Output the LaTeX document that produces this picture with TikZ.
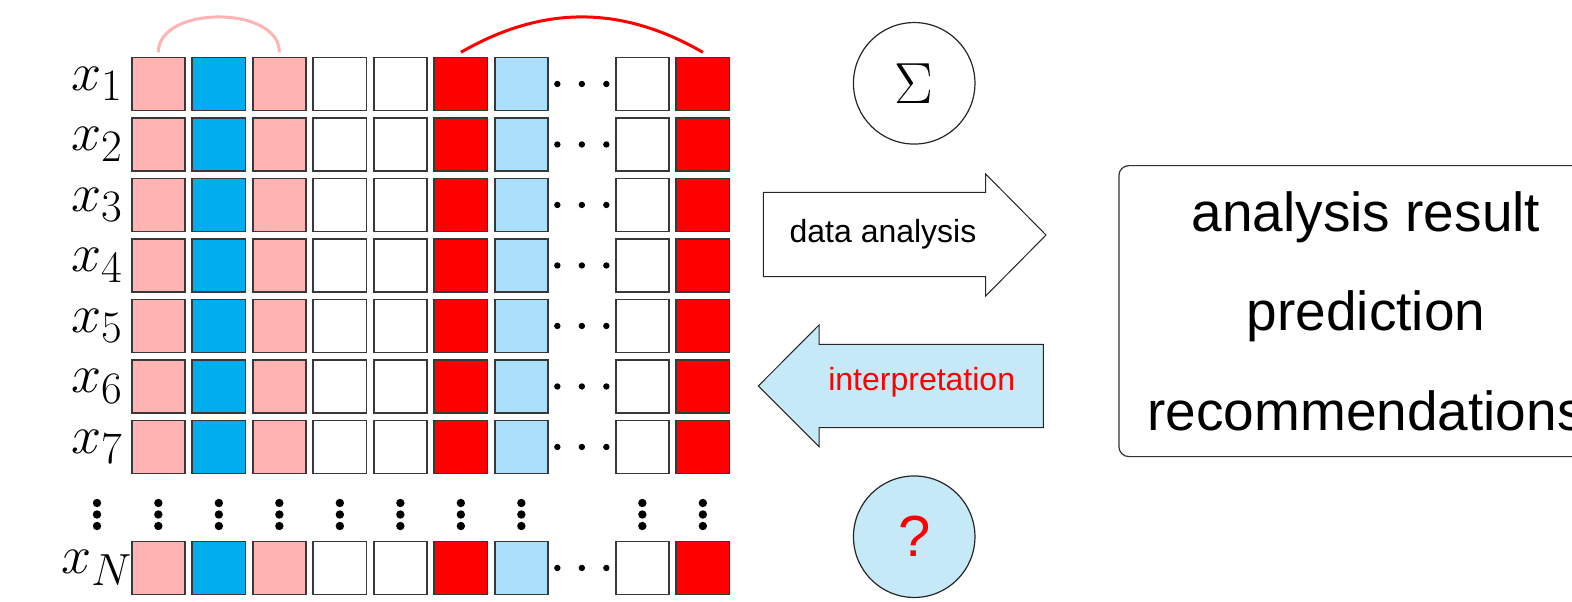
\documentclass[tikz,border=0pt]{standalone}
\usepackage{amsmath}
\usepackage{fontspec}
\usepackage{xcolor}
\usetikzlibrary{positioning}
\newfontfamily\robo{Liberation Sans}
\definecolor{pinky}{HTML}{FFB3B3}
\definecolor{bluey}{HTML}{00AEEF}
\definecolor{lightbluey}{HTML}{AAE0FA}
\definecolor{paleblue}{HTML}{C6E9F8}

\begin{document}
\begin{tikzpicture}[x=0.5pt,y=-0.5pt]
\tikzstyle{every node}+=[inner sep=0pt]
\tikzstyle{cell}=[draw=black!78, line width=0.8pt, minimum size=26.65pt]
\tikzstyle{rowlabel}=[font=\Huge, scale=1.085]
\tikzstyle{arrowtext}=[font=\robo\fontsize{16}{19}\selectfont, anchor=base]
\tikzstyle{resulttext}=[font=\robo\fontsize{27.5}{32}\selectfont, anchor=base]
\tikzstyle{bubble}=[circle, draw=black!85, line width=0.6pt, minimum size=60.75pt]
\useasboundingbox (0,0) rectangle (1572,601);
\foreach \c/\col in {0/pinky,1/bluey,2/pinky,3/white,4/white,5/red,6/lightbluey,8/white,9/red} {
  \foreach \r in {1,...,7}
    \node [cell, fill=\col] (c\r-\c) at ({158.35+60.5*\c},{83.95+60.5*(\r-1)}) {};
  \node [cell, fill=\col] (cN-\c) at ({158.35+60.5*\c},567.95) {};
}
\foreach \r in {1,...,7}
  \node [rowlabel] (x\r) at (97,{83.95+60.5*(\r-1)}) {$x_{\r}$};
\node [rowlabel] (xN) at (97,567.95) {$x_N$};
\foreach \y in {83.95,144.45,204.95,265.45,325.95,386.45,446.95,567.95}
  \foreach \dx in {-24.5,0,24.5}
    \fill ({581.85+\dx},\y) circle (1.6pt);
\foreach \x in {97,158.35,218.85,279.35,339.85,400.35,460.85,521.35,642.35,702.85}
  \foreach \y in {503,514.5,526}
    \fill (\x,\y) circle (2.1pt);
\draw [pinky, line width=1.5pt] ([yshift=2.1pt]c1-0.north) to[out=90,in=90] ([yshift=2.1pt]c1-2.north);
\draw [red, line width=1.5pt] ([yshift=2.1pt]c1-5.north) to[out=30,in=150] ([yshift=2.1pt]c1-9.north);
\node [bubble] (sum) at (914.2,83.3) {\scalebox{1.4}{\huge$\Sigma$}};
\node [bubble, fill=paleblue] (query) at (914.2,536.7) {\robo\fontsize{29}{32}\selectfont\textcolor{red}{?}};
\draw [black!85, line width=0.5pt] (763.3,192.3) -- (985.7,192.3) -- (985.7,174) -- (1046,235) -- (985.7,296) -- (985.7,276.7) -- (763.3,276.7) -- cycle;
\node [arrowtext] (analysis) at (883,242.7) {data analysis};
\draw [black!85, line width=0.5pt, fill=paleblue] (1043.3,344.3) -- (819,344.3) -- (819,325) -- (758.3,386) -- (819,446.7) -- (819,427.7) -- (1043.3,427.7) -- cycle;
\node [arrowtext, text=red] (interp) at (921.7,390) {interpretation};
\node [draw=black!80, line width=0.6pt, rounded corners=5pt, anchor=north west, minimum width=250pt, minimum height=145.5pt] (result) at (1118.3,165) {};
\node [resulttext] (res1) at (1366,231.7) {analysis result};
\node [resulttext] (res2) at (1366,330) {prediction};
\node [resulttext] (res3) at (1366,430) {recommendations};
\end{tikzpicture}
\end{document}
